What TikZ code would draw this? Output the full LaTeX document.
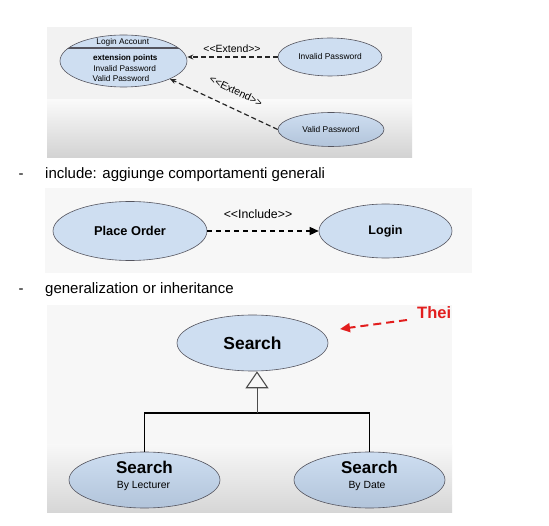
\documentclass[tikz,border=0pt]{standalone}
\usepackage{fontspec}
\setmainfont{Liberation Sans}
\usetikzlibrary{shapes.geometric,arrows.meta}
\definecolor{ucfill}{RGB}{206,222,241}
\definecolor{ucfilldk}{RGB}{178,196,218}
\definecolor{ucborder}{RGB}{85,85,95}
\definecolor{panelbg}{RGB}{242,242,242}
\definecolor{panelgray}{RGB}{210,210,210}
\definecolor{arrowred}{RGB}{226,30,30}
\newcommand{\lla}{<\kern0pt<}
\newcommand{\rra}{>\kern0pt>}
\tikzset{
  uc/.style={ellipse, draw=ucborder, line width=0.6pt, fill=ucfill, inner sep=0pt, text=black},
  ucshade/.style={ellipse, draw=ucborder, line width=0.6pt, top color=ucfill, bottom color=ucfilldk, inner sep=0pt, text=black},
  extendline/.style={draw=black!85, line width=1.2pt, dash pattern=on 5pt off 3pt, -{Stealth[length=6pt,width=5pt]}},
  includeline/.style={draw=black, line width=1.3pt, dash pattern=on 5pt off 4pt, -{Triangle[length=9pt,width=8pt]}},
  plain/.style={inner sep=0pt, text=black},
}
\begin{document}
\begin{tikzpicture}[x=1pt,y=-1pt]
\useasboundingbox (0,0) rectangle (549,526);
\fill[white] (0,0) rectangle (549,526);
% ---------- panel 1 background ----------
\fill[panelbg] (47,27) rectangle (412,100);
\shade[top color=panelbg!40!white, bottom color=panelgray] (47,100) rectangle (412,158);
% use cases panel 1
\node[uc, minimum width=127pt, minimum height=52pt] (la) at (123.5,61) {};
\begin{scope}
  \clip (123.5,61) ellipse [x radius=63.5, y radius=26];
  \draw[ucborder, line width=1.1pt] (50,48) -- (200,48);
\end{scope}
\node[plain, font=\fontsize{8.3}{10}\selectfont] (lat) at (122.8,42.5) {Login Account};
\node[plain, font=\fontsize{8.1}{10}\selectfont\bfseries] (lep) at (125.3,58) {extension points};
\node[plain, font=\fontsize{8.3}{10}\selectfont] (lei) at (124.7,68.5) {Invalid Password};
\node[plain, font=\fontsize{8.3}{10}\selectfont] (lev) at (121,79) {Valid Password};
\node[uc, minimum width=104pt, minimum height=38pt, font=\fontsize{8.4}{10}\selectfont] (ip) at (330,57) {Invalid Password};
\node[ucshade, minimum width=106pt, minimum height=34pt, font=\fontsize{8.4}{10}\selectfont] (vp) at (331,129.5) {Valid Password};
\coordinate (latip) at (170,79);
\draw[extendline] (ip.west) -- (la.east |- ip.west);
\draw[extendline] (vp.west) -- (latip);
\node[plain, font=\fontsize{10.5}{12}\selectfont] (ex1) at (232,49) {\lla Extend\rra};
\node[plain, font=\fontsize{10.5}{12}\selectfont, rotate=-26] (ex2) at (236,91) {\lla Extend\rra};
% ---------- bullet 1 ----------
\node[plain, font=\fontsize{15}{18}\selectfont] (d1) at (21,176) {-};
\node[plain, anchor=west, font=\fontsize{15}{18}\selectfont] (b1) at (45,175) {include: aggiunge comportamenti generali};
% ---------- panel 2 ----------
\fill[black!3] (45,188) rectangle (472,273);
\node[uc, minimum width=154pt, minimum height=59pt, font=\fontsize{12.8}{15}\selectfont\bfseries] (po) at (130,231) {Place Order};
\node[uc, minimum width=133pt, minimum height=54pt, font=\fontsize{12.5}{15}\selectfont\bfseries] (lg) at (385.5,231) {Login};
\draw[includeline] (po.east |- lg.west) -- (lg.west);
\node[plain, font=\fontsize{12.3}{14}\selectfont] (inc) at (258,214) {\lla Include\rra};
% ---------- bullet 2 ----------
\node[plain, font=\fontsize{15}{18}\selectfont] (d2) at (21,291) {-};
\node[plain, anchor=west, font=\fontsize{15}{18}\selectfont] (b2) at (45,290) {generalization or inheritance};
% ---------- panel 3 ----------
\fill[black!3] (47,305) rectangle (452,445);
\shade[top color=black!3, bottom color=black!16] (47,445) rectangle (452,512);
\node[uc, minimum width=151pt, minimum height=56pt, font=\fontsize{17.4}{20}\selectfont\bfseries] (st) at (252.5,343) {Search};
\node[ucshade, minimum width=151pt, minimum height=56pt] (sl) at (144.5,480) {};
\node[ucshade, minimum width=151pt, minimum height=56pt] (sr) at (369.5,480) {};
\node[plain, font=\fontsize{17}{20}\selectfont\bfseries] (slt) at (144.5,467) {Search};
\node[plain, font=\fontsize{10.4}{12}\selectfont] (sls) at (143.5,486) {By Lecturer};
\node[plain, font=\fontsize{17}{20}\selectfont\bfseries] (srt) at (369.5,467) {Search};
\node[plain, font=\fontsize{10.4}{12}\selectfont] (srs) at (367,486) {By Date};
\coordinate (jn) at (257,413);
\draw[black, line width=1.1pt] (sl.north) |- (jn) -| (sr.north);
\draw[black!70, line width=0.8pt, -{Triangle[open, length=17pt, width=23pt, line width=1.1pt]}] (jn) -- (jn |- st.south);
% red annotation
\node[plain, anchor=west, text=arrowred, font=\fontsize{16.5}{19}\selectfont\bfseries] (thei) at (417,313) {Thei};
\coordinate (rs) at (407,320);
\coordinate (re) at (340,329);
\draw[arrowred, line width=2pt, dash pattern=on 8pt off 5pt, -{Triangle[length=10pt,width=9pt]}] (rs) -- (re);
\end{tikzpicture}
\end{document}
